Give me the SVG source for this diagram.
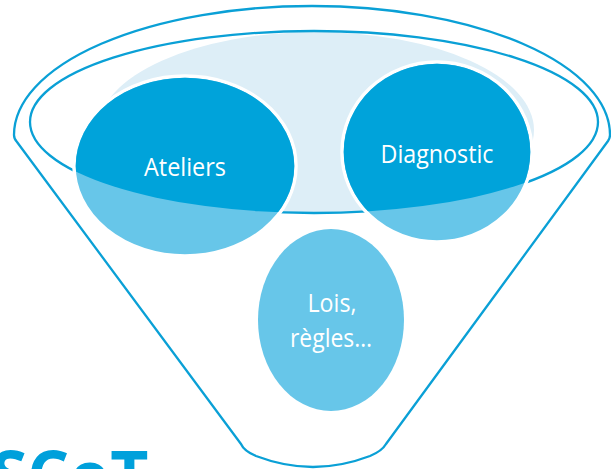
<svg xmlns="http://www.w3.org/2000/svg" width="611" height="469" viewBox="0 0 611 469">
<style>
.line{fill:none;stroke:#0AA0D6;stroke-width:2.3;stroke-linejoin:round}
.dark{fill:#00A3DA}
.lite{fill:#67C6E9}
.ring{stroke:#FFFFFF;stroke-width:3.5}
.lbl{font-family:"Open Sans","Noto Sans",sans-serif;font-size:26px;fill:#FFFFFF;text-anchor:middle}
.brand{font-family:"Open Sans","Noto Sans",sans-serif;font-weight:bold;font-size:66px;fill:#00A0DB}
</style>
<defs>
<clipPath id="rim"><ellipse cx="314" cy="122" rx="284" ry="91"/></clipPath>
</defs>
<rect width="611" height="469" fill="#FFFFFF"/>
<g id="funnel">
<path class="line" d="M14,135 A298,129 0 0 1 610,135 Q610,138 608,141 L386,444 Q382,451 370,456 Q341,467 313,467 Q285,467 256,456 Q244,451 241,444 L17,142 Q14,139 14,135 Z"/>
<ellipse cx="316" cy="130" rx="218" ry="98" fill="#DDEEF7" clip-path="url(#rim)"/>
<ellipse class="line" cx="314" cy="122" rx="284" ry="91"/>
</g>
<g id="ateliers">
<ellipse class="lite ring" cx="185" cy="166" rx="111" ry="90"/>
<ellipse class="dark" cx="185" cy="166" rx="109.3" ry="88.3" clip-path="url(#rim)"/>
<text class="lbl" x="185" y="176" textLength="82" lengthAdjust="spacingAndGlyphs">Ateliers</text>
</g>
<g id="diagnostic">
<ellipse class="lite ring" cx="437" cy="152" rx="95" ry="90"/>
<ellipse class="dark" cx="437" cy="152" rx="93.3" ry="88.3" clip-path="url(#rim)"/>
<text class="lbl" x="437" y="163" textLength="113" lengthAdjust="spacingAndGlyphs">Diagnostic</text>
</g>
<g id="lois">
<ellipse class="lite" cx="331" cy="320" rx="73" ry="91"/>
<text class="lbl" x="332" y="312" textLength="49" lengthAdjust="spacingAndGlyphs">Lois,</text>
<text class="lbl" x="331" y="347" textLength="82" lengthAdjust="spacingAndGlyphs">règles…</text>
</g>
<text class="brand" x="-9" y="499">SCoT</text>
</svg>
